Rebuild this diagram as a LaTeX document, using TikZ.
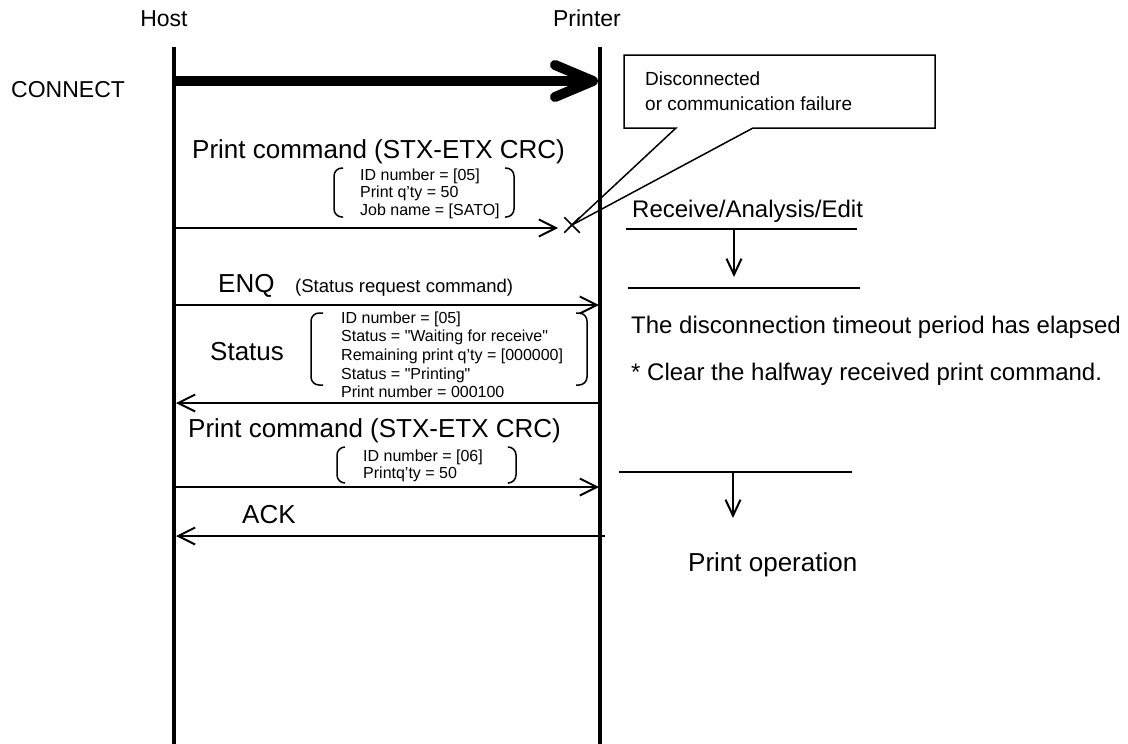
\documentclass[tikz,border=0pt]{standalone}
\usepackage{fontspec}
\setmainfont{Liberation Sans}[Ligatures=TeXOff]
\usetikzlibrary{arrows.meta,shapes.misc}
\begin{document}
\begin{tikzpicture}[x=1pt,y=-1pt,
  lifeline/.style={line width=3.5pt},
  msg/.style={line width=2pt,-{Straight Barb[length=17pt,width=17pt]}},
  flow/.style={line width=2pt,-{Straight Barb[length=16pt,width=15pt]}},
  rulel/.style={line width=2pt},
  paren/.style={line width=1.5pt,rounded corners=8pt},
  txt/.style={inner sep=0pt,anchor=base west},
  big/.style={txt,font=\fontsize{26}{30}\selectfont},
  mid/.style={txt,font=\fontsize{24}{28}\selectfont},
  hdr/.style={inner sep=0pt,anchor=base,font=\fontsize{23}{27}\selectfont},
  hdrl/.style={txt,font=\fontsize{23}{27}\selectfont},
  note/.style={txt,font=\fontsize{19}{23}\selectfont},
  small/.style={txt,font=\fontsize{16}{19}\selectfont},
]
\useasboundingbox (0,0) rectangle (1128,744);

% lifelines
\coordinate (hTop) at (174,47); \coordinate (hBot) at (174,744);
\coordinate (pTop) at (600,47); \coordinate (pBot) at (600,744);
\draw[lifeline] (hTop) -- (hBot);
\draw[lifeline] (pTop) -- (pBot);

% headers
\node[hdr] (host) at (164,27) {Host};
\node[hdr] (printer) at (587,27) {Printer};
\node[hdrl] (connect) at (11,97) {CONNECT};

% CONNECT arrow
\coordinate (c0h) at (174,81); \coordinate (c0p) at (598,81);
\draw[line width=10pt,-{Straight Barb[length=38pt,width=32pt,round]}] (c0h) -- (c0p);

% print command 1
\node[big] (pc1) at (192,158) {Print command (STX-ETX CRC)};
\draw[paren] (343,168) -- (334,168) -- (334,217) -- (343,217);
\draw[paren] (505,168) -- (514,168) -- (514,217) -- (505,217);
\node[small] (b1a) at (360,180) {ID number = [05]};
\node[small] (b1b) at (360,197.5) {Print q’ty = 50};
\node[small] (b1c) at (360,215) {Job name = [SATO]};
\coordinate (m1h) at (174,228); \coordinate (m1e) at (558,228);
\draw[msg] (m1h) -- (m1e);
\node[cross out,draw,line width=1.5pt,minimum size=14pt,inner sep=0pt] (xmark) at (572,225) {};

% callout
\draw[line width=1.5pt] (676,128) -- (624,128) -- (624,55) -- (935,55) -- (935,128) -- (753,128) -- (xmark.center) -- cycle;
\node[note] (cl1) at (645,85) {Disconnected};
\node[note] (cl2) at (645,110) {or communication failure};

% ENQ
\node[big] (enq) at (218,292) {ENQ};
\node[txt,font=\fontsize{18.5}{22}\selectfont] (enqd) at (295,292) {(Status request command)};
\coordinate (m2h) at (174,305); \coordinate (m2p) at (599,305);
\draw[msg] (m2h) -- (m2p);

% Status
\node[big] (status) at (210,360) {Status};
\draw[paren] (323,313) -- (311,313) -- (311,385) -- (323,385);
\draw[paren] (576,313) -- (587,313) -- (587,385) -- (576,385);
\node[small] (s1) at (341,323) {ID number = [05]};
\node[small] (s2) at (341,341.7) {Status = "Waiting for receive"};
\node[small] (s3) at (341,360.4) {Remaining print q’ty = [000000]};
\node[small] (s4) at (341,379.1) {Status = "Printing"};
\node[small] (s5) at (341,397.8) {Print number = 000100};
\coordinate (m3p) at (599,403); \coordinate (m3h) at (176,403);
\draw[msg] (m3p) -- (m3h);

% print command 2
\node[big] (pc2) at (188,437) {Print command (STX-ETX CRC)};
\draw[paren] (345,447) -- (337,447) -- (337,483) -- (345,483);
\draw[paren] (509,447) -- (516,447) -- (516,483) -- (509,483);
\node[small] (b2a) at (363,461) {ID number = [06]};
\node[small] (b2b) at (363,478) {Printq’ty = 50};
\coordinate (m4h) at (174,487); \coordinate (m4p) at (599,487);
\draw[msg] (m4h) -- (m4p);

% ACK
\node[big] (ack) at (242,523) {ACK};
\coordinate (m5p) at (605,536); \coordinate (m5h) at (176,536);
\draw[msg] (m5p) -- (m5h);

% right side: receive
\node[mid] (recv) at (632,217) {Receive/Analysis/Edit};
\coordinate (r1a) at (626,229); \coordinate (r1b) at (857,229);
\coordinate (r1c) at (734,229); \coordinate (r1d) at (734,277);
\coordinate (r2a) at (628,288); \coordinate (r2b) at (860,288);
\draw[rulel] (r1a) -- (r1b);
\draw[flow] (r1c) -- (r1d);
\draw[rulel] (r2a) -- (r2b);
\node[mid] (tmo) at (631,333) {The disconnection timeout period has elapsed};
\node[mid] (clr) at (631,380) {* Clear the halfway received print command.};

% right side: print operation
\coordinate (r3a) at (619,472); \coordinate (r3b) at (852,472);
\coordinate (r3c) at (733,472); \coordinate (r3d) at (733,518);
\draw[rulel] (r3a) -- (r3b);
\draw[flow] (r3c) -- (r3d);
\node[big] (prop) at (688,571) {Print operation};
\end{tikzpicture}
\end{document}
